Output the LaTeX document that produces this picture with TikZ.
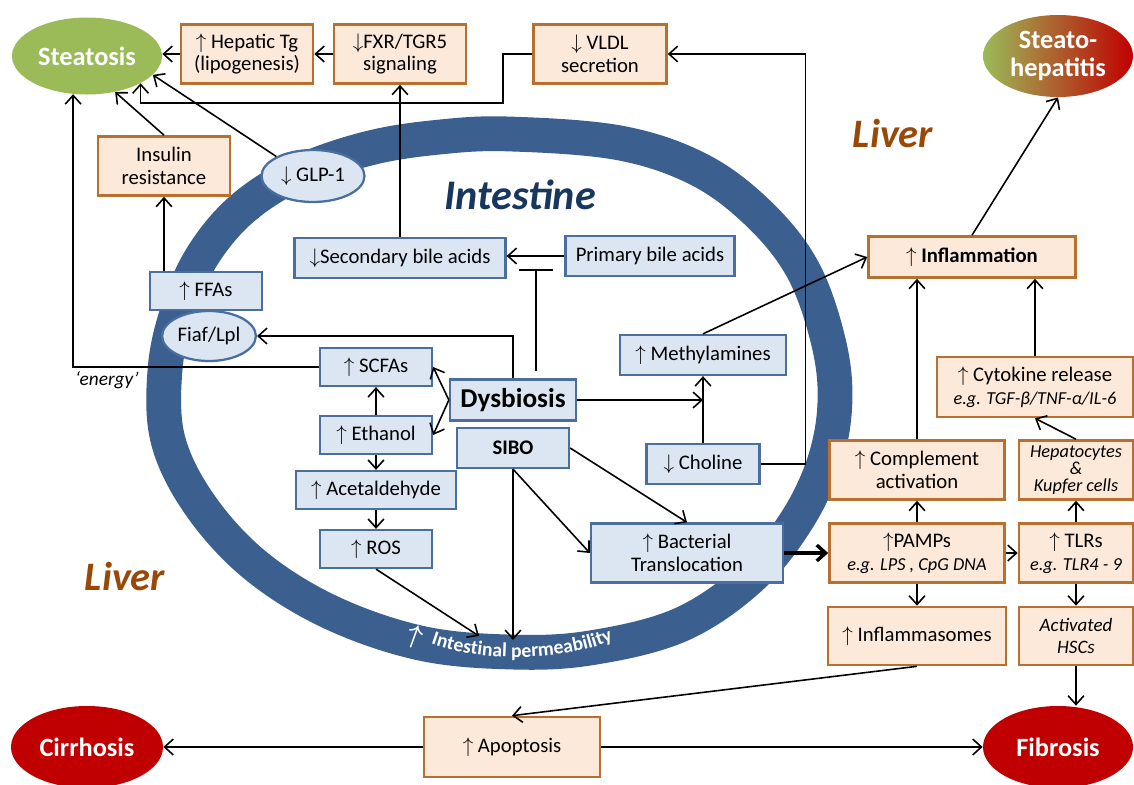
\documentclass[tikz,border=0pt]{standalone}
\usepackage{fontspec}
\setmainfont{Carlito}
\usetikzlibrary{arrows.meta,shapes.geometric,decorations.text}

\definecolor{ringblue}{HTML}{3B5F8E}
\definecolor{intfill}{HTML}{DCE6F2}
\definecolor{intline}{HTML}{4A6F9F}
\definecolor{livfill}{HTML}{FDE9D9}
\definecolor{livline}{HTML}{B8702E}
\definecolor{stgreen}{HTML}{9BBB59}
\definecolor{dred}{HTML}{C00000}
\definecolor{livtxt}{HTML}{984807}
\definecolor{inttxt}{HTML}{17375E}

\newcommand{\arup}{$\uparrow$}
\newcommand{\ardn}{$\downarrow$}
\newcommand{\egl}[1]{{\fontsize{10.4}{12}\selectfont\itshape #1}}

\tikzset{
  sz/.style 2 args={minimum width=#1*0.02cm, minimum height=#2*0.02cm},
  txt/.style={font=\fontsize{11.8}{13}\selectfont, align=center, inner sep=1pt},
  ibox/.style={txt, draw=intline, fill=intfill, line width=1.3pt},
  lbox/.style={txt, draw=livline, fill=livfill, line width=1.5pt},
  iell/.style={ibox, ellipse},
  stage/.style={ellipse, align=center, text=white, inner sep=1pt,
    font=\fontsize{15}{16}\selectfont\bfseries},
  region/.style={font=\fontsize{23}{25}\selectfont\bfseries\itshape, text=livtxt},
  conn/.style={-{Straight Barb[length=5pt,width=9pt]}, line width=0.9pt},
  inhib/.style={-{Bar[width=19pt]}, line width=0.9pt},
}

\begin{document}
\begin{tikzpicture}[x=0.02cm, y=-0.02cm]
  \useasboundingbox (0,0) rectangle (1134,785);

  % intestine wall
  \draw[ringblue, line width=19.8pt] plot[smooth cycle, tension=0.6] coordinates {
    (510,134) (620,143) (700,170) (760,215) (803,270) (828,340) (835,400)
    (825,460) (797,520) (750,578) (680,625) (590,648) (510,652) (420,643)
    (330,612) (255,565) (200,505) (168,440) (165,370) (178,310) (203,255)
    (243,208) (300,172) (370,148) (440,137)};
  \path[decorate, decoration={text along path, text align=center,
      text={|\fontsize{11.2}{12}\selectfont\bfseries\color{white}|Intestinal permeability}}]
    (424,641) .. controls (477,663) and (567,663) .. (620,637);
  \node[text=white, rotate=-20, scale=1.5, font=\boldmath] (I-permup) at (415,637) {$\uparrow$};
  \coordinate (I-perm) at (513,640);
  \coordinate (I-perm-l) at (479,636);
  \coordinate (I-bar) at (536,269);

  \node[region] (T-liver-1) at (893,133) {Liver};
  \node[region] (T-liver-2) at (125,576) {Liver};
  \node[font=\fontsize{24}{26}\selectfont\bfseries\itshape, text=inttxt] (T-intestine) at (520,195) {Intestine};

  % liver side
  \node[stage, fill=stgreen, sz={150}{77}] (L-steat) at (87,56) {Steatosis};
  \node[lbox, sz={132}{59}] (L-tg) at (247,54) {\arup{} Hepatic Tg\\(lipogenesis)};
  \node[lbox, sz={132}{59}] (L-fxr) at (400,54) {\ardn FXR/TGR5\\signaling};
  \node[lbox, sz={133}{59}] (L-vldl) at (600,54) {\ardn{} VLDL\\secretion};
  \node[stage, left color=stgreen, right color=dred, sz={150}{82}] (L-steh) at (1058,56) {Steato-\\hepatitis};
  \node[lbox, sz={132}{59}] (L-ins) at (164,166) {Insulin\\resistance};
  \node[lbox, sz={207}{41}, font=\fontsize{11.8}{13}\selectfont\bfseries] (L-infl) at (972,257) {\arup{} Inflammation};
  \node[lbox, sz={196}{60}] (L-cyto) at (1035,387) {\arup{} Cytokine release\\\egl{e.g. TGF-β/TNF-α/IL-6}};
  \node[lbox, sz={175}{59}] (L-comp) at (917,470) {\arup{} Complement\\activation};
  \node[lbox, sz={114}{59}, font=\fontsize{10.4}{9.5}\selectfont\itshape] (L-hep) at (1076,470) {Hepatocytes\\\&\\Kupfer cells};
  \node[lbox, sz={175}{59}] (L-pamp) at (917,553) {\arup PAMPs\\\egl{e.g. LPS , CpG DNA}};
  \node[lbox, sz={114}{59}] (L-tlr) at (1076,553) {\arup{} TLRs\\\egl{e.g. TLR4 - 9}};
  \node[lbox, sz={178}{58}] (L-inflm) at (917,636) {\arup{} Inflammasomes};
  \node[lbox, sz={114}{58}, font=\fontsize{10.8}{13}\selectfont\itshape] (L-hsc) at (1076,636) {Activated\\HSCs};
  \node[lbox, sz={176}{60}] (L-apop) at (512,747) {\arup{} Apoptosis};
  \node[stage, fill=dred, sz={152}{82}] (L-cirr) at (87,747) {Cirrhosis};
  \node[stage, fill=dred, sz={150}{82}] (L-fib) at (1058,747) {Fibrosis};

  % intestine side
  \node[iell, sz={103}{52}] (I-glp) at (313,176) {\ardn{} GLP-1};
  \node[ibox, sz={211}{40}] (I-sba) at (400,258) {\ardn Secondary bile acids};
  \node[ibox, sz={169}{40}] (I-pba) at (650,256) {Primary bile acids};
  \node[ibox, sz={112}{38}] (I-ffa) at (206,291) {\arup{} FFAs};
  \node[iell, sz={87}{50}] (I-fiaf) at (209,336) {Fiaf/Lpl};
  \node[ibox, sz={166}{40}] (I-meth) at (703,355) {\arup{} Methylamines};
  \node[ibox, sz={112}{38}] (I-scfa) at (376,367) {\arup{} SCFAs};
  \node[ibox, sz={126}{41}, font=\fontsize{15.5}{17}\selectfont\bfseries] (I-dys) at (513,400) {Dysbiosis};
  \node[ibox, sz={112}{38}] (I-eth) at (376,435) {\arup{} Ethanol};
  \node[ibox, sz={112}{40}, font=\fontsize{11.8}{13}\selectfont\bfseries] (I-sibo) at (513,448) {SIBO};
  \node[ibox, sz={113}{40}] (I-chol) at (703,464) {\ardn{} Choline};
  \node[ibox, sz={160}{38}] (I-acet) at (376,490) {\arup{} Acetaldehyde};
  \node[ibox, sz={112}{38}] (I-ros) at (376,549) {\arup{} ROS};
  \node[ibox, sz={192}{59}] (I-bact) at (687,553) {\arup{} Bacterial\\Translocation};

  % connectors
  \draw[conn] (L-tg.west) -- (L-tg.west -| L-steat.east);
  \draw[conn] (L-fxr.west) -- (L-tg.east);
  \draw[conn] (L-vldl.west) -| (503,103) -| (L-steat.-27);
  \draw[conn] (I-chol.east) -- ++(45,0) |- (L-vldl.east);
  \draw[conn] (I-sba.north) -- (L-fxr.south);
  \draw[conn] (I-pba.west) -- (I-pba.west -| I-sba.east);
  \draw[inhib, shorten <=4pt] (I-dys.north -| I-bar) -- (I-bar);
  \draw[conn] (I-dys.north) |- (I-fiaf.east);
  \draw[conn] (I-dys.west) -- (I-scfa.east);
  \draw[conn] (I-dys.west) -- (I-eth.east);
  \draw[conn] (I-eth.north) -- (I-scfa.south);
  \draw[conn] (I-eth.south) -- (I-acet.north);
  \draw[conn] (I-acet.south) -- (I-ros.north);
  \draw[conn] (I-scfa.west) -| (L-steat.-110);
  \node[font=\fontsize{11}{12}\selectfont\itshape] (T-energy) at (107,380) {‘energy’};
  \draw[conn] (I-ffa.north -| L-ins.south) -- (L-ins.south);
  \draw[conn] (L-ins.north) -- (L-steat.-52);
  \draw[conn] (I-glp.152) -- (L-steat.-16);
  \draw[conn] (I-dys.east) -- (I-dys.east -| I-meth.south);
  \draw[conn] (I-chol.north) -- (I-meth.south);
  \draw[conn] (I-meth.north) -- (L-infl.west);
  \draw[conn] (I-sibo.east) -- (I-bact.north);
  \draw[conn] (I-sibo.south) -- (I-bact.west);
  \draw[conn] (I-sibo.south) -- (I-perm);
  \draw[conn] (I-ros.south) -- (I-perm-l);
  \draw[conn, line width=2pt] (I-bact.east) -- (L-pamp.west);
  \draw[conn] (L-pamp.east) -- (L-tlr.west);
  \draw[conn] (L-pamp.north) -- (L-comp.south);
  \draw[conn] (L-pamp.south) -- (L-inflm.north);
  \draw[conn] (L-comp.north) -- (L-comp.north |- L-infl.south);
  \draw[conn] (L-tlr.north) -- (L-hep.south);
  \draw[conn] (L-hep.north) -- (L-cyto.south);
  \draw[conn] (L-cyto.north) -- (L-cyto.north |- L-infl.south);
  \draw[conn] (L-tlr.south) -- (L-hsc.north);
  \draw[conn] (L-hsc.south) -- (L-hsc.south |- L-fib.north);
  \draw[conn] (L-infl.north) -- (L-steh.south);
  \draw[conn] (L-inflm.south) -- (L-apop.north);
  \draw[conn] (L-apop.west) -- (L-cirr.east);
  \draw[conn] (L-apop.east) -- (L-fib.west);
\end{tikzpicture}
\end{document}
